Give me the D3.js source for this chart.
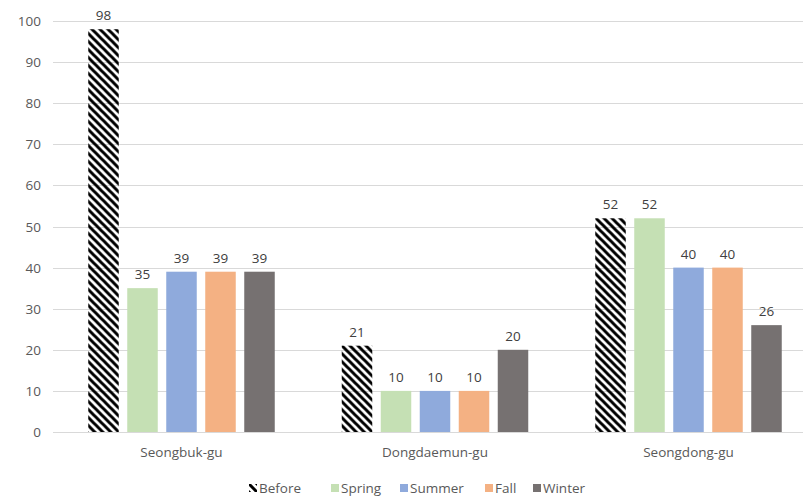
<!DOCTYPE html>
<html><head><meta charset="utf-8">
<script src="https://cdn.jsdelivr.net/npm/d3@7"></script>
<style>body{margin:0;background:#fff}svg{display:block;font-family:"Open Sans",sans-serif}</style>
</head><body><svg id="c" width="803" height="497"></svg>
<script>
const districts = ["Seongbuk-gu", "Dongdaemun-gu", "Seongdong-gu"];
const seriesNames = ["Before", "Spring", "Summer", "Fall", "Winter"];
const before = [98, 21, 52];
const spring = [35, 10, 52];
const summer = [39, 10, 40];
const fall = [39, 10, 40];
const winter = [39, 20, 26];
const yTicks = [0, 10, 20, 30, 40, 50, 60, 70, 80, 90, 100];
const colors = ["url(#hatch)", "#c5e0b4", "#8faadc", "#f4b183", "#767171"];

const values = [before, spring, summer, fall, winter];
const svg = d3.select("#c");
const defs = svg.append("defs");
const pat = defs.append("pattern").attr("id", "hatch").attr("patternUnits", "userSpaceOnUse")
  .attr("width", 8).attr("height", 8);
pat.append("path").attr("d", "M-2,-2 L10,10 M-4,4 L4,12 M4,-4 L12,4")
  .attr("stroke", "#000").attr("stroke-width", 3);

const plotL = 53, plotR = 803;
const y = d3.scaleLinear().domain([0, 100]).range([432, 21]);
const x0 = d3.scaleBand().domain(districts).range([54.75, 815.25]).paddingInner(0).paddingOuter(0);
const x1 = d3.scaleBand().domain(seriesNames).range([33.5, 220]).paddingInner(0.218).paddingOuter(0);

// gridlines
svg.append("g").selectAll("line").data(yTicks).join("line")
  .attr("x1", plotL).attr("x2", plotR)
  .attr("y1", d => Math.round(y(d)) + 0.5).attr("y2", d => Math.round(y(d)) + 0.5)
  .attr("stroke", "#d9d9d9").attr("stroke-width", 1);

// y tick labels
svg.append("g").selectAll("text").data(yTicks).join("text")
  .attr("x", 41).attr("y", d => y(d) + 5)
  .attr("text-anchor", "end").attr("font-size", 13.5).attr("fill", "#595959")
  .text(d => d);

// bars
const groups = svg.append("g").selectAll("g").data(districts).join("g")
  .attr("transform", d => `translate(${x0(d)},0)`);
groups.each(function(dist, i) {
  const g = d3.select(this);
  seriesNames.forEach((s, j) => {
    const v = values[j][i];
    g.append("rect").attr("x", x1(s)).attr("width", x1.bandwidth())
      .attr("y", y(v)).attr("height", y(0) - y(v)).attr("fill", colors[j]);
    g.append("text").attr("x", x1(s) + x1.bandwidth() / 2).attr("y", y(v) - 9)
      .attr("text-anchor", "middle").attr("font-size", 13.5).attr("fill", "#404040").text(v);
  });
});

// category labels
svg.append("g").selectAll("text").data(districts).join("text")
  .attr("x", d => x0(d) + 33.5 + 93.25).attr("y", 457)
  .attr("text-anchor", "middle").attr("font-size", 13.5).attr("fill", "#595959").text(d => d);

// legend
const legX = [249, 331, 400, 485, 533];
const leg = svg.append("g").selectAll("g").data(seriesNames).join("g")
  .attr("transform", (d, i) => `translate(${legX[i]},484)`);
leg.append("rect").attr("width", 8).attr("height", 8).attr("fill", (d, i) => colors[i]);
leg.append("text").attr("x", 10).attr("y", 9).attr("font-size", 13.5).attr("fill", "#595959").text(d => d);
</script></body></html>
